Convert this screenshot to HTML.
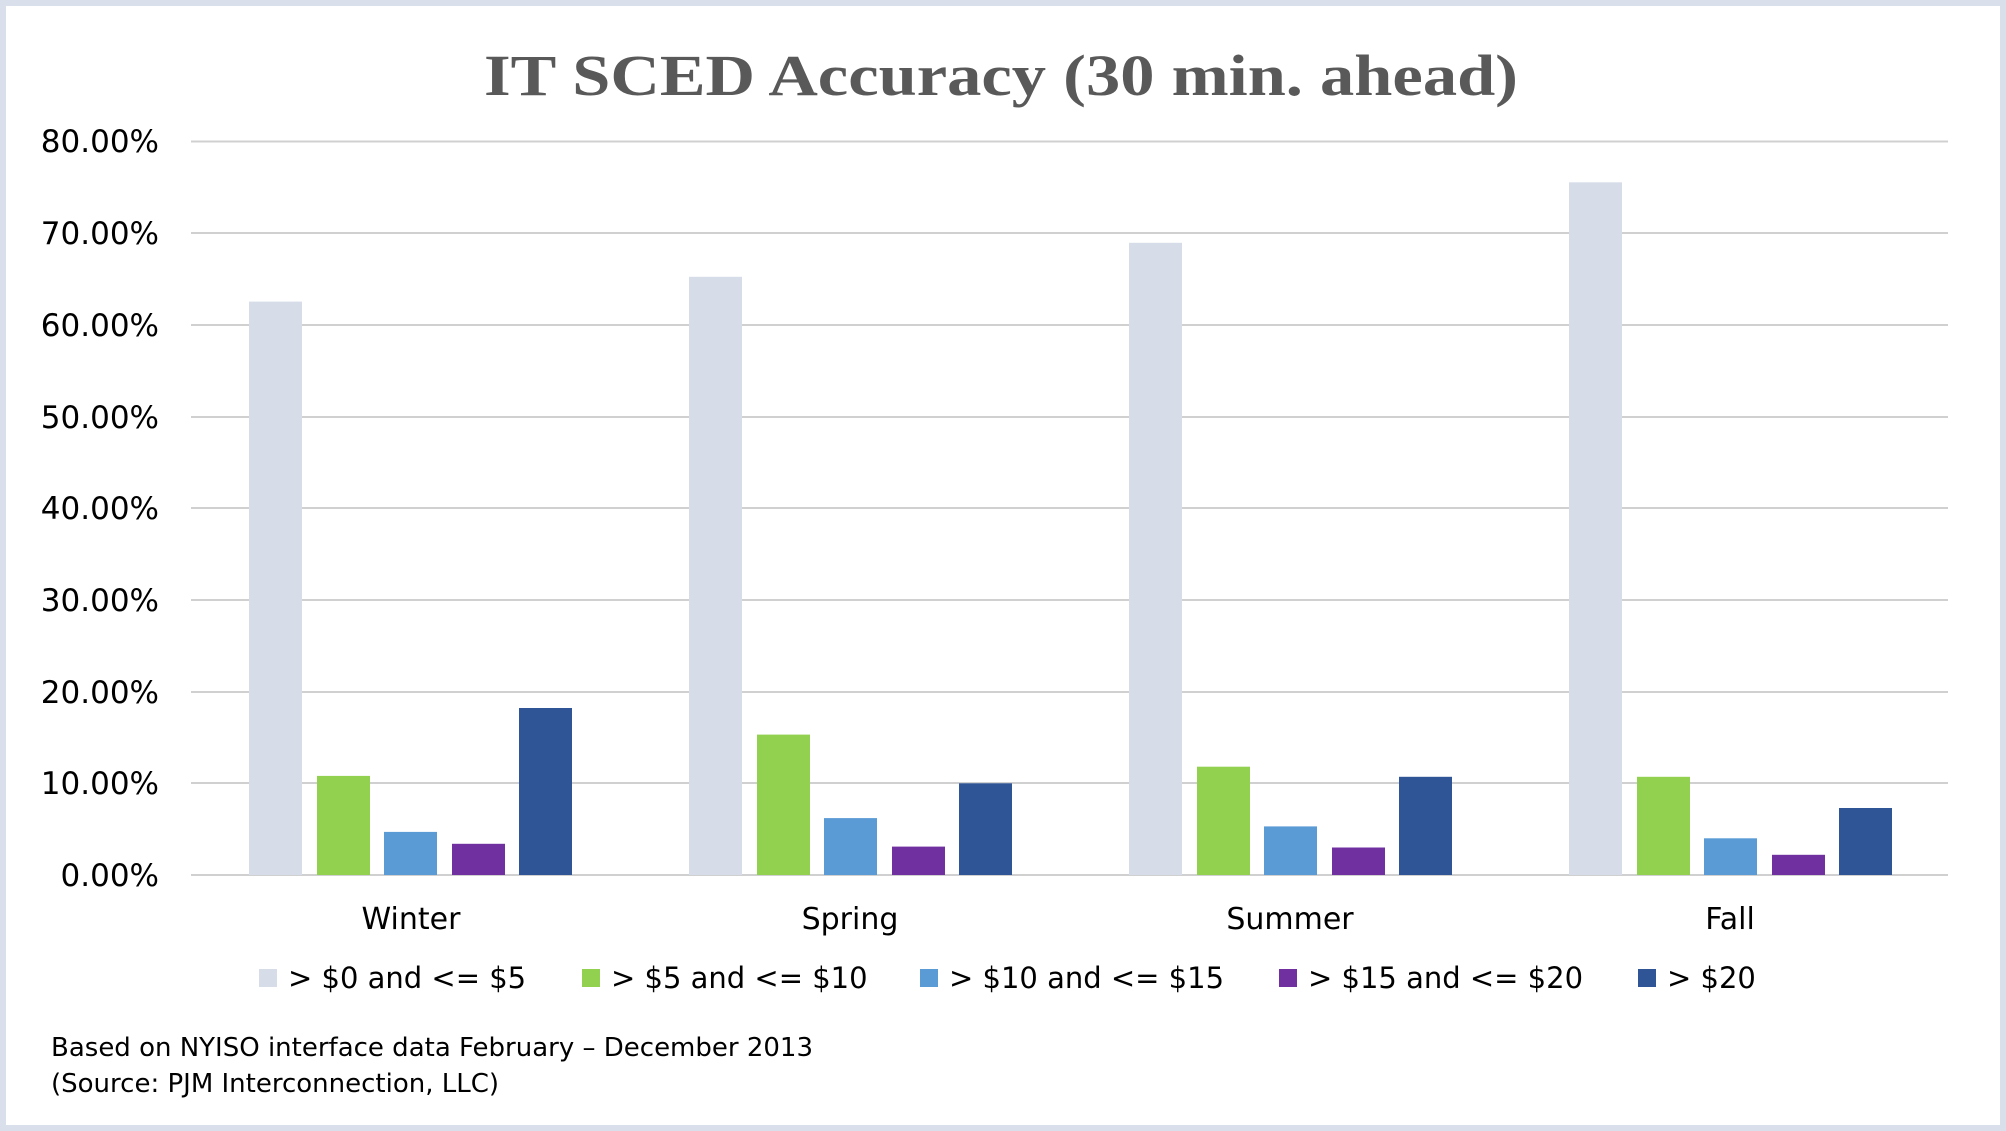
<!DOCTYPE html>
<html><head><style>
html,body{margin:0;padding:0;background:#fff}
svg{display:block}
text{font-family:"DejaVu Sans","Liberation Sans",sans-serif;fill:#000}
</style></head><body>
<svg width="2006" height="1131" xmlns="http://www.w3.org/2000/svg">
<rect x="0" y="0" width="2006" height="1131" fill="#d9e0ec"/>
<rect x="6" y="6" width="1994" height="1119" fill="#fff"/>
<text x="484" y="95" textLength="1034" lengthAdjust="spacingAndGlyphs" style="font-family:'Liberation Serif',serif;font-weight:bold;font-size:58px;fill:#595959">IT SCED Accuracy (30 min. ahead)</text>
<g stroke="#d0d0d0" stroke-width="2">
<line x1="191" x2="1948" y1="141.5" y2="141.5"/>
<line x1="191" x2="1948" y1="233" y2="233"/>
<line x1="191" x2="1948" y1="325" y2="325"/>
<line x1="191" x2="1948" y1="417" y2="417"/>
<line x1="191" x2="1948" y1="508" y2="508"/>
<line x1="191" x2="1948" y1="600" y2="600"/>
<line x1="191" x2="1948" y1="692" y2="692"/>
<line x1="191" x2="1948" y1="783" y2="783"/>
<line x1="191" x2="1948" y1="875" y2="875"/>
</g>
<g font-size="31" text-anchor="end">
<text x="159" y="152">80.00%</text>
<text x="159" y="244">70.00%</text>
<text x="159" y="336">60.00%</text>
<text x="159" y="428">50.00%</text>
<text x="159" y="519">40.00%</text>
<text x="159" y="611">30.00%</text>
<text x="159" y="703">20.00%</text>
<text x="159" y="794">10.00%</text>
<text x="159" y="886">0.00%</text>
</g>
<g font-size="30" text-anchor="middle">
<text x="411" y="929">Winter</text>
<text x="850" y="929">Spring</text>
<text x="1290" y="929">Summer</text>
<text x="1730" y="929">Fall</text>
</g>
<g font-size="29">
<rect x="259" y="969" width="18" height="18" fill="#d6dde9"/><text x="288" y="988">&gt; $0 and &lt;= $5</text>
<rect x="582" y="969" width="18" height="18" fill="#92d050"/><text x="611" y="988">&gt; $5 and &lt;= $10</text>
<rect x="920" y="969" width="18" height="18" fill="#5b9bd5"/><text x="949" y="988">&gt; $10 and &lt;= $15</text>
<rect x="1279" y="969" width="18" height="18" fill="#7030a0"/><text x="1308" y="988">&gt; $15 and &lt;= $20</text>
<rect x="1638" y="969" width="18" height="18" fill="#2f5597"/><text x="1667" y="988">&gt; $20</text>
</g>
<g font-size="26">
<text x="51" y="1056">Based on NYISO interface data February – December 2013</text>
<text x="51" y="1092">(Source: PJM Interconnection, LLC)</text>
</g>
<g>
<rect x="249" y="301.6" width="53" height="573.4" fill="#d6dde9"/>
<rect x="317" y="775.9" width="53" height="99.1" fill="#92d050"/>
<rect x="384" y="831.9" width="53" height="43.1" fill="#5b9bd5"/>
<rect x="452" y="843.8" width="53" height="31.2" fill="#7030a0"/>
<rect x="519" y="708" width="53" height="167" fill="#2f5597"/>

<rect x="689" y="276.8" width="53" height="598.2" fill="#d6dde9"/>
<rect x="757" y="734.6" width="53" height="140.4" fill="#92d050"/>
<rect x="824" y="818.1" width="53" height="56.9" fill="#5b9bd5"/>
<rect x="892" y="846.6" width="53" height="28.4" fill="#7030a0"/>
<rect x="959" y="783.3" width="53" height="91.7" fill="#2f5597"/>

<rect x="1129" y="242.8" width="53" height="632.2" fill="#d6dde9"/>
<rect x="1197" y="766.7" width="53" height="108.3" fill="#92d050"/>
<rect x="1264" y="826.4" width="53" height="48.6" fill="#5b9bd5"/>
<rect x="1332" y="847.5" width="53" height="27.5" fill="#7030a0"/>
<rect x="1399" y="776.8" width="53" height="98.2" fill="#2f5597"/>

<rect x="1569" y="182.3" width="53" height="692.7" fill="#d6dde9"/>
<rect x="1637" y="776.8" width="53" height="98.2" fill="#92d050"/>
<rect x="1704" y="838.3" width="53" height="36.7" fill="#5b9bd5"/>
<rect x="1772" y="854.8" width="53" height="20.2" fill="#7030a0"/>
<rect x="1839" y="808" width="53" height="67" fill="#2f5597"/>
</g>
</svg>
</body></html>
